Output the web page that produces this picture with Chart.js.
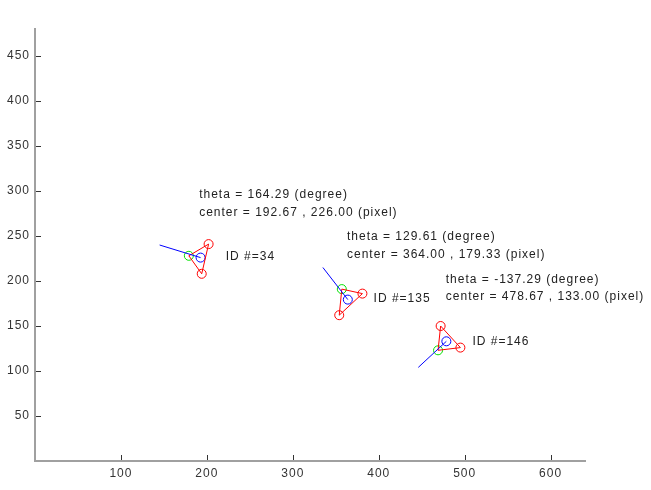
<!DOCTYPE html>
<html lang="en">
<head>
<meta charset="UTF-8">
<title>Marker orientation</title>
<style>
  body { margin: 0; background: #fff; }
  #wrap { width: 651px; height: 490px; position: relative; }
</style>
<script src="https://cdn.jsdelivr.net/npm/chart.js"></script>
</head>
<body>
<div id="wrap"><canvas id="chart"></canvas></div>
<script>
// values, in image pixel coordinates
const markerIds = [34, 135, 146];
const thetaDeg = [164.29, 129.61, -137.29];
const centerX = [192.67, 364.00, 478.67];
const centerY = [226.00, 179.33, 133.00];
const greenX = [179, 357, 469];
const greenY = [228, 191, 123];
const redAX = [202, 381, 472];
const redAY = [241, 186, 150];
const redBX = [194, 354, 495];
const redBY = [208, 162, 126];
const headX = [145, 335, 446];
const headY = [240, 215, 104];

// where the captions are anchored (same coordinates)
const infoX = [191, 363, 478];
const thetaTextY = [296, 249, 201];
const centerTextY = [276, 229, 183];
const idTextX = [222, 394, 509];
const idTextY = [227, 180, 133];

const xTicks = [100, 200, 300, 400, 500, 600];
const yTicks = [50, 100, 150, 200, 250, 300, 350, 400, 450];

const pt = (x, y) => ({x: x, y: y});

const datasets = [];
markerIds.forEach((id, i) => {
    datasets.push({
        label: 'heading ' + id,
        data: [pt(centerX[i], centerY[i]), pt(headX[i], headY[i])],
        showLine: true, borderColor: '#0000ff', borderWidth: 1, pointRadius: 0
    });
    const g = pt(greenX[i], greenY[i]);
    datasets.push({
        label: 'triangle ' + id,
        data: [g, pt(redAX[i], redAY[i]), pt(redBX[i], redBY[i]), g],
        showLine: true, borderColor: '#ff0000', borderWidth: 1, pointRadius: 0
    });
});
datasets.push({
    label: 'red',
    data: markerIds.flatMap((id, i) => [pt(redAX[i], redAY[i]), pt(redBX[i], redBY[i])]),
    showLine: false, borderColor: '#ff0000', backgroundColor: 'rgba(0,0,0,0)',
    pointRadius: 4.5, borderWidth: 1
});
datasets.push({
    label: 'green',
    data: markerIds.map((id, i) => pt(greenX[i], greenY[i])),
    showLine: false, borderColor: '#00e000', backgroundColor: 'rgba(0,0,0,0)',
    pointRadius: 4.5, borderWidth: 1
});
datasets.push({
    label: 'blue',
    data: markerIds.map((id, i) => pt(centerX[i], centerY[i])),
    showLine: false, borderColor: '#0000ff', backgroundColor: 'rgba(0,0,0,0)',
    pointRadius: 4.5, borderWidth: 1
});

const labelFont = '12px "Liberation Sans", Arial, sans-serif';

// MATLAB style: ticks pointing inward, text annotations
const extras = {
    id: 'extras',
    beforeDraw(chart) {
        chart.ctx.letterSpacing = '1px';
    },
    afterDraw(chart) {
        const {ctx, chartArea: area, scales: {x, y}} = chart;
        ctx.save();
        ctx.strokeStyle = '#333';
        ctx.lineWidth = 1;
        ctx.beginPath();
        xTicks.forEach(v => {
            const px = Math.round(x.getPixelForValue(v)) + 0.5;
            ctx.moveTo(px, area.bottom - 1);
            ctx.lineTo(px, area.bottom - 6);
        });
        yTicks.forEach(v => {
            const py = Math.round(y.getPixelForValue(v)) + 0.5;
            ctx.moveTo(area.left + 1, py);
            ctx.lineTo(area.left + 6, py);
        });
        ctx.stroke();

        ctx.fillStyle = '#222';
        ctx.font = labelFont;
        ctx.textAlign = 'left';
        ctx.textBaseline = 'middle';
        markerIds.forEach((id, i) => {
            const lx = x.getPixelForValue(infoX[i]);
            ctx.fillText('theta = ' + thetaDeg[i].toFixed(2) + ' (degree)', lx, y.getPixelForValue(thetaTextY[i]));
            ctx.fillText('center = ' + centerX[i].toFixed(2) + ' , ' + centerY[i].toFixed(2) + ' (pixel)', lx, y.getPixelForValue(centerTextY[i]));
            ctx.fillText('ID #=' + id, x.getPixelForValue(idTextX[i]), y.getPixelForValue(idTextY[i]));
        });
        ctx.restore();
        ctx.letterSpacing = '0px';
    }
};

const axisTicks = {
    color: '#333',
    font: {family: '"Liberation Sans", Arial, sans-serif', size: 12},
    autoSkip: false,
    maxRotation: 0
};

new Chart(document.getElementById('chart'), {
    type: 'scatter',
    data: {datasets: datasets},
    options: {
        responsive: true,
        maintainAspectRatio: false,
        animation: false,
        layout: {padding: {top: 29, right: 66, left: 0, bottom: 0}},
        plugins: {legend: {display: false}, tooltip: {enabled: false}},
        scales: {
            x: {
                type: 'linear', min: 0, max: 640,
                afterBuildTicks: s => { s.ticks = xTicks.map(v => ({value: v})); },
                afterFit: s => { s.height = 29; },
                grid: {display: false, drawTicks: false},
                border: {display: true, color: '#a0a0a0', width: 2},
                ticks: Object.assign({padding: 5}, axisTicks)
            },
            y: {
                type: 'linear', min: 0, max: 480,
                afterBuildTicks: s => { s.ticks = yTicks.map(v => ({value: v})); },
                afterFit: s => { s.width = 35; },
                grid: {display: false, drawTicks: false},
                border: {display: true, color: '#a0a0a0', width: 2},
                ticks: Object.assign({padding: 5}, axisTicks)
            }
        }
    },
    plugins: [extras]
});
</script>
</body>
</html>
